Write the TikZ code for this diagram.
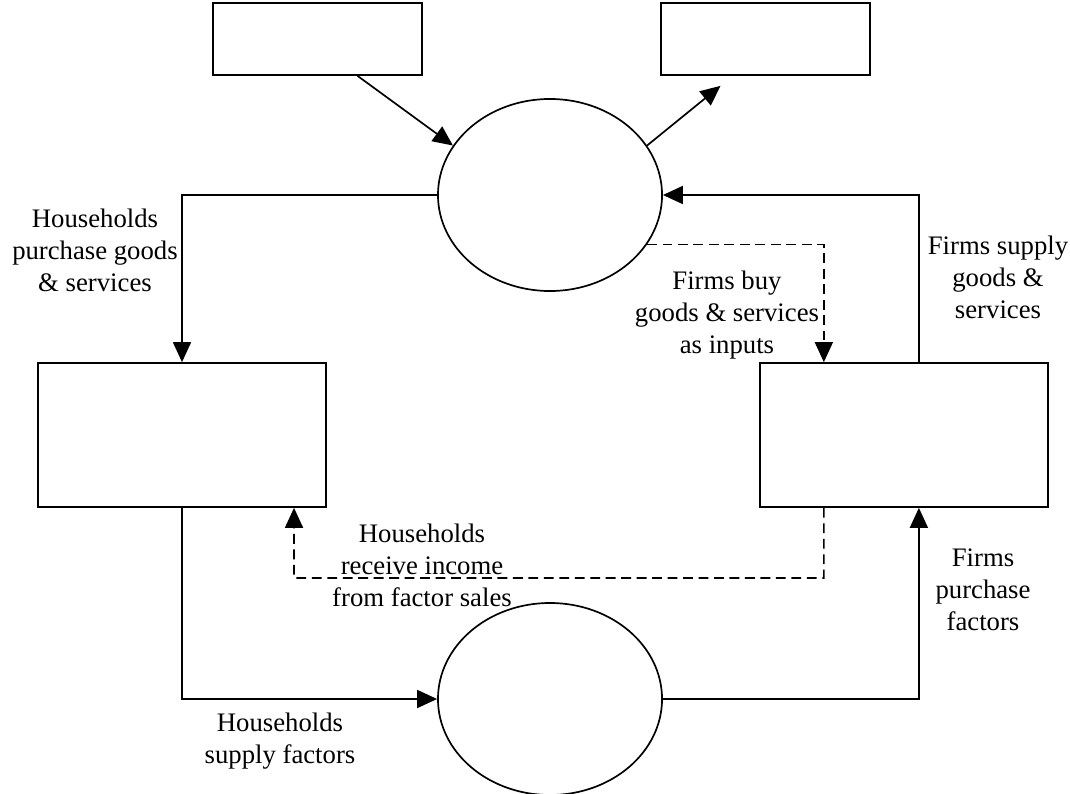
\documentclass[tikz,border=0pt]{standalone}
\usepackage{fontspec}
\setmainfont{Liberation Serif}
\usetikzlibrary{arrows.meta, positioning, calc, shapes.geometric}

\begin{document}
\begin{tikzpicture}[
  x=0.025cm, y=-0.025cm,
  box/.style={draw, line width=1.2pt, minimum width=5.225cm, minimum height=1.8cm, inner sep=0pt},
  sector/.style={draw, line width=1.2pt, minimum width=7.2cm, minimum height=3.6cm, inner sep=0pt},
  market/.style={draw, ellipse, line width=1.2pt, minimum width=5.6cm, minimum height=4.8cm, inner sep=0pt},
  lbl/.style={align=center, font=\fontsize{19}{22.8}\selectfont},
  arr/.style={-{Triangle[length=0.5cm,width=0.45cm]}, line width=1.2pt},
  flow/.style={arr, dash pattern=on 7pt off 4pt}
]
\useasboundingbox (0,0) rectangle (1070,794);

\node[box] (inj)  at (317.5,39) {};
\node[box] (leak) at (765.5,39) {};
\node[market] (goods) at (550,195) {};
\node[market] (factors) at (550,699) {};
\node[sector] (hh) at (182,435) {};
\node[sector, right=10.8cm of hh] (firms) {};
\coordinate (dip) at (294,578);

\node[lbl] (hhbuy)   at (95,250)  {Households\\purchase goods\\\& services};
\node[lbl] (fbuy)    at (727,315) {Firms buy\\goods \& services\\as inputs};
\node[lbl] (fsupply) at (998,277) {Firms supply\\goods \&\\services};
\node[lbl] (hhinc)   at (422,565) {Households\\receive income\\from factor sales};
\node[lbl] (fpurch)  at (983,590) {Firms\\purchase\\factors};
\node[lbl] (hhsup)   at (280,741) {Households\\supply factors};

\draw[arr] ([xshift=1cm]inj.south) -- (goods.153);
\draw[arr] (goods.27) -- ([xshift=-1.125cm,yshift=-0.25cm]leak.south);
\draw[arr] (goods.west) -| (hh.north);
\draw[arr] ([xshift=0.375cm]firms.north) |- (goods.east);
\draw[arr] (hh.south) |- (factors.west);
\draw[arr] (factors.east) -| ([xshift=0.375cm]firms.south);
\draw[flow] (goods.-27) -| ([xshift=-2cm]firms.north);
\draw[flow] ([xshift=-2cm]firms.south) |- (dip) -- ([xshift=2.8cm]hh.south);
\end{tikzpicture}
\end{document}
